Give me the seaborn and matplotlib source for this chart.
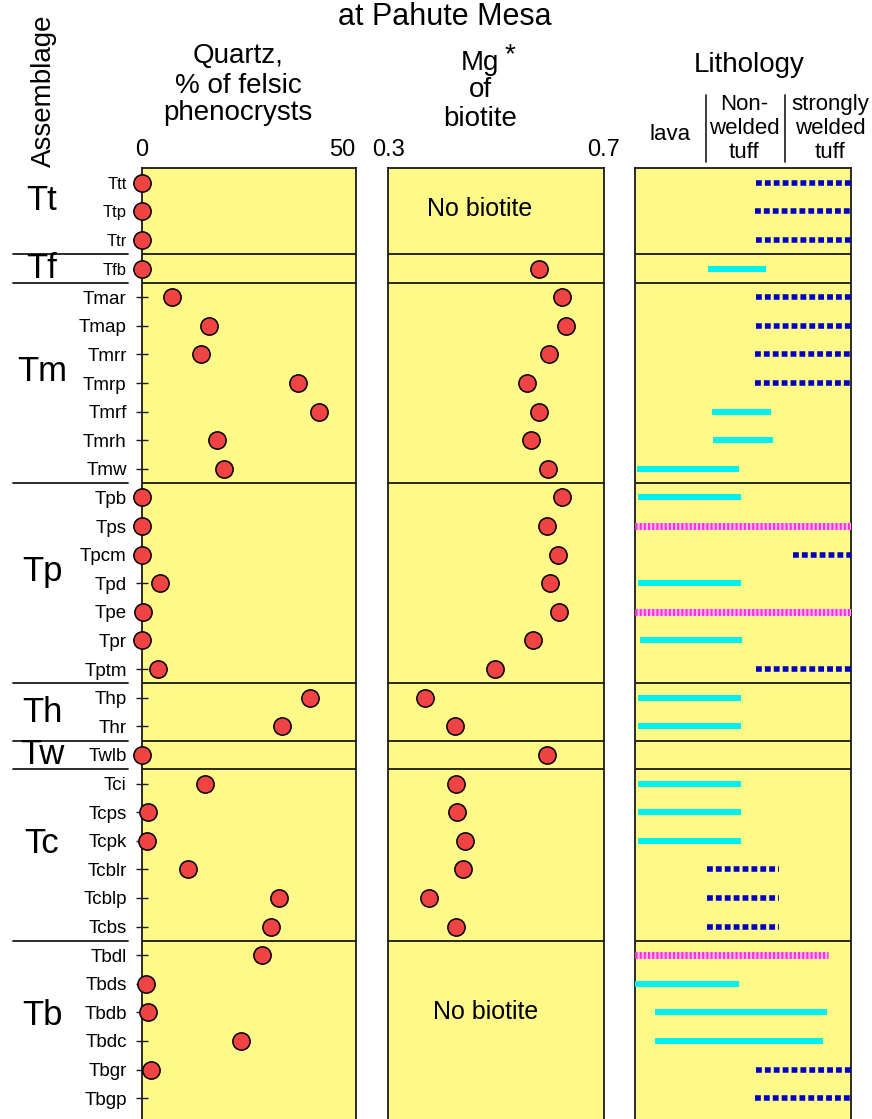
import numpy as np
import pandas as pd
import matplotlib
matplotlib.use("Agg")
import matplotlib.pyplot as plt
from matplotlib.lines import Line2D
import seaborn as sns

sns.set_style("white")
plt.rcParams["font.family"] = ["Liberation Sans", "DejaVu Sans"]
plt.rcParams["text.color"] = "black"
plt.rcParams["xtick.color"] = "black"
plt.rcParams["ytick.color"] = "black"
plt.rcParams["axes.labelcolor"] = "black"

# ---- data -------------------------------------------------------------
groups = ["Tt", "Tf", "Tm", "Tp", "Th", "Tw", "Tc", "Tb"]
group_sizes = [3, 1, 7, 7, 2, 1, 6, 6]

units = ["Ttt", "Ttp", "Ttr",
         "Tfb",
         "Tmar", "Tmap", "Tmrr", "Tmrp", "Tmrf", "Tmrh", "Tmw",
         "Tpb", "Tps", "Tpcm", "Tpd", "Tpe", "Tpr", "Tptm",
         "Thp", "Thr",
         "Twlb",
         "Tci", "Tcps", "Tcpk", "Tcblr", "Tcblp", "Tcbs",
         "Tbdl", "Tbds", "Tbdb", "Tbdc", "Tbgr", "Tbgp"]

nan = np.nan
quartz_pct = [0, 0, 0,
              0,
              7.5, 16.8, 14.8, 39.0, 44.3, 18.8, 20.5,
              0, 0, 0, 4.5, 0.2, 0, 4.0,
              42.0, 35.0,
              0,
              15.8, 1.5, 1.2, 11.5, 34.3, 32.3,
              30.0, 1.0, 1.5, 24.8, 2.2, nan]

mg_number = [nan, nan, nan,
             0.580,
             0.622, 0.630, 0.598, 0.557, 0.580, 0.565, 0.596,
             0.622, 0.594, 0.615, 0.600, 0.616, 0.569, 0.498,
             0.369, 0.424,
             0.594,
             0.426, 0.427, 0.443, 0.439, 0.376, 0.426,
             nan, nan, nan, nan, nan, nan]

# lithology ranges on a 0-3 scale (lava | non-welded tuff | strongly welded tuff)
litho_kind = ["blue", "blue", "blue",
              "cyan",
              "blue", "blue", "blue", "blue", "cyan", "cyan", "cyan",
              "cyan", "pink", "blue", "cyan", "pink", "cyan", "blue",
              "cyan", "cyan",
              None,
              "cyan", "cyan", "cyan", "blue", "blue", "blue",
              "pink", "cyan", "cyan", "cyan", "blue", "blue"]
litho_start = [1.68, 1.67, 1.68,
               1.01,
               1.68, 1.68, 1.67, 1.67, 1.07, 1.08, 0.03,
               0.04, 0.0, 2.19, 0.04, 0.0, 0.07, 1.68,
               0.04, 0.04,
               nan,
               0.04, 0.04, 0.04, 1.0, 1.0, 1.0,
               0.0, 0.0, 0.28, 0.28, 1.68, 1.67]
litho_end = [3.0, 3.0, 3.0,
             1.82,
             3.0, 3.0, 3.0, 3.0, 1.89, 1.91, 1.44,
             1.47, 3.0, 3.0, 1.47, 3.0, 1.49, 3.0,
             1.47, 1.47,
             nan,
             1.47, 1.47, 1.47, 2.0, 2.0, 2.0,
             2.68, 1.44, 2.67, 2.61, 3.0, 3.0]

df = pd.DataFrame({"unit": units, "row": np.arange(len(units)),
                   "quartz": quartz_pct, "mg": mg_number})

# ---- layout -----------------------------------------------------------
W, H = 872, 1119
fig = plt.figure(figsize=(W / 100, H / 100), dpi=100)
fig.patch.set_facecolor("white")

def fx(px):
    return px / W

def fy(py):
    return 1 - py / H

PANEL = "#FFF98A"
DOT = "#F04444"
INK = "#1A1A1A"
top_px = 168
ax_h = (H - top_px) / H
ylim = (32.73, -0.52)

ax_q = fig.add_axes([fx(142), 0, (356 - 142) / W, ax_h])
ax_m = fig.add_axes([fx(388), 0, (604 - 388) / W, ax_h])
ax_l = fig.add_axes([fx(635), 0, (851 - 635) / W, ax_h])

sizes = np.array(group_sizes)
bounds = np.cumsum(sizes)[:-1] - 0.5
starts = np.concatenate([[0], np.cumsum(sizes)[:-1]])
mids = starts + (sizes - 1) / 2
# large assemblage labels sit a little above the middle of their rows
label_y = mids - np.where(sizes >= 3, 0.4, 0.0)

for ax in (ax_q, ax_m, ax_l):
    ax.set_facecolor(PANEL)
    ax.set_ylim(*ylim)
    for side in ("left", "right", "top"):
        ax.spines[side].set_visible(True)
        ax.spines[side].set_linewidth(1.3)
        ax.spines[side].set_color(INK)
    ax.spines["bottom"].set_visible(False)
    for b in bounds:
        ax.axhline(b, color=INK, lw=1.3, zorder=1)

# quartz panel
sns.scatterplot(data=df, x="quartz", y="row", ax=ax_q, s=155, color=DOT,
                edgecolor="black", linewidth=1.1, legend=False,
                clip_on=False, zorder=4)
ax_q.set_xlim(0, 53.5)
ax_q.set_ylim(*ylim)
ax_q.xaxis.tick_top()
ax_q.set_xticks([0, 50])
ax_q.set_xticklabels(["0", "50"], fontsize=17)
ax_q.tick_params(axis="x", length=0, pad=5)
ax_q.set_yticks(df["row"])
ax_q.set_yticklabels(units, fontsize=13.5)
for lab in ax_q.get_yticklabels()[:4]:
    lab.set_fontsize(12)
ax_q.tick_params(axis="y", direction="inout", length=8, width=1.0,
                 color=INK, pad=7, left=True)
ax_q.set_xlabel("")
ax_q.set_ylabel("")

# assemblage labels and separators on the left
ytr = ax_q.get_yaxis_transform()
x0 = (13 - 142) / 214
x1 = (128 - 142) / 214
for b in bounds:
    ax_q.plot([x0, x1], [b, b], color=INK, lw=1.3,
              transform=ytr, clip_on=False)
for g, m in zip(groups, label_y):
    ax_q.text((42 - 142) / 214, m, g, transform=ytr, fontsize=25,
              ha="center", va="center")

# Mg* panel
sns.scatterplot(data=df, x="mg", y="row", ax=ax_m, s=155, color=DOT,
                edgecolor="black", linewidth=1.1, legend=False,
                clip_on=False, zorder=4)
ax_m.set_xlim(0.3, 0.7)
ax_m.set_ylim(*ylim)
ax_m.xaxis.tick_top()
ax_m.set_xticks([0.3, 0.7])
ax_m.set_xticklabels(["0.3", "0.7"], fontsize=17)
ax_m.tick_params(axis="x", length=0, pad=5)
ax_m.set_yticks([])
ax_m.set_xlabel("")
ax_m.set_ylabel("")
ax_m.text(0.47, 0.9, "No biotite", fontsize=18, ha="center", va="center")
ax_m.text(0.48, 29.0, "No biotite", fontsize=18, ha="center", va="center")

# lithology panel
ax_l.set_xlim(0, 3)
ax_l.set_ylim(*ylim)
ax_l.set_xticks([])
ax_l.set_yticks([])
for row, (k, s0, s1) in enumerate(zip(litho_kind, litho_start, litho_end)):
    if k is None:
        continue
    if k == "cyan":
        ax_l.plot([s0, s1], [row, row], color="#00F0F0", lw=4.3,
                  solid_capstyle="butt", zorder=3)
    elif k == "blue":
        ax_l.plot([s0, s1], [row, row], color="#0000C0", lw=4.0,
                  linestyle=(0, (1.05, 0.55)), dash_capstyle="butt", zorder=3)
    else:
        ax_l.plot([s0, s1], [row, row], color="#FFB8F0", lw=5,
                  solid_capstyle="butt", zorder=3)
        ax_l.plot([s0, s1], [row, row], color="#FF30D8", lw=5,
                  linestyle=(0, (0.3, 0.3)), dash_capstyle="butt", zorder=3)

# ---- header text ------------------------------------------------------
fig.text(fx(445), fy(2), "at Pahute Mesa", fontsize=22,
         ha="center", va="top")
fig.text(fx(44), fy(91), "Assemblage", fontsize=20, rotation=90,
         ha="center", va="center")

for txt, y in (("Quartz,", 63), ("% of felsic", 93), ("phenocrysts", 120)):
    fig.text(fx(238), fy(y), txt, fontsize=20, ha="center", va="baseline")

for txt, y in (("Mg", 70), ("of", 97), ("biotite", 126)):
    fig.text(fx(480), fy(y), txt, fontsize=20, ha="center", va="baseline")
fig.text(fx(510), fy(62), "*", fontsize=20, ha="center", va="baseline")

fig.text(fx(749), fy(72), "Lithology", fontsize=20, ha="center", va="baseline")
fig.text(fx(670), fy(140), "lava", fontsize=16, ha="center", va="baseline")
for txt, y in (("Non-", 110), ("welded", 134), ("tuff", 158)):
    fig.text(fx(744), fy(y), txt, fontsize=16, ha="center", va="baseline")
for txt, y in (("strongly", 110), ("welded", 134), ("tuff", 158)):
    fig.text(fx(830), fy(y), txt, fontsize=16, ha="center", va="baseline")

for xpx in (706, 785):
    fig.add_artist(Line2D([fx(xpx), fx(xpx)], [fy(95), fy(162)],
                          transform=fig.transFigure, color=INK, lw=1.2))

fig.savefig("out.png", dpi=100, facecolor="white")
